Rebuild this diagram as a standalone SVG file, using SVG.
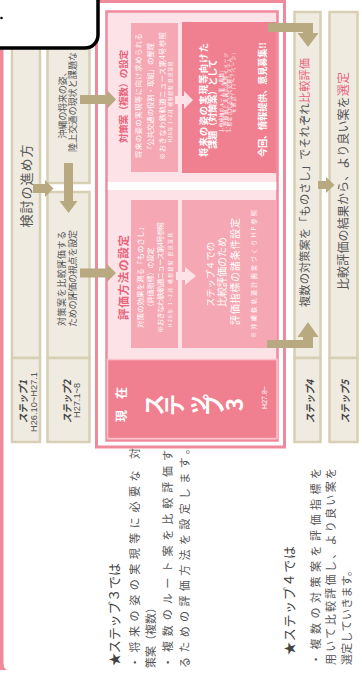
<svg xmlns="http://www.w3.org/2000/svg" width="362" height="676" viewBox="0 0 362 676">
<style>
text{font-family:"Noto Sans CJK JP","Noto Sans",sans-serif;}
.lat{font-family:"Liberation Sans","Noto Sans CJK JP",sans-serif;}
.col{fill:#efebe1;stroke:#d7cfb3;stroke-width:2.5;}
.arr{fill:#b8a981;}
.frame{fill:none;stroke:#f0899a;}
.mid{fill:#f5a7b3;}
.dark{fill:#f0808f;}
.lpa{fill:#fde3e8;}
.g{fill:#555;}
.w{fill:#fff;}
.pkt{fill:#e9637b;}
.b{font-weight:bold;}
</style>

<!-- left pink edge -->
<path d="M0,40 H3.5 V662 Q3.5,670 8,670 H0 Z" fill="#f0899a"/>

<!-- step columns -->
<g id="step1">
  <rect class="col" x="12" y="-5" width="28" height="363"/>
  <rect class="col" x="12" y="358" width="28" height="84"/>
  <text class="g" x="31.4" y="186" font-size="13" text-anchor="middle" textLength="83" lengthAdjust="spacing" transform="rotate(-90 31.4 186)">検討の進め方</text>
  <text class="b" fill="#444" x="26.8" y="401.5" font-size="10" font-style="italic" text-anchor="middle" textLength="43" lengthAdjust="spacingAndGlyphs" transform="rotate(-90 26.8 401.5)">ステップ1</text>
  <text class="lat" fill="#555" x="36.6" y="402" font-size="9" text-anchor="middle" textLength="60" lengthAdjust="spacingAndGlyphs" transform="rotate(-90 36.6 402)">H26.10~H27.1</text>
</g>

<g id="step2">
  <rect class="col" x="47.5" y="-5" width="42" height="188"/>
  <rect class="col" x="47.5" y="192" width="42" height="166"/>
  <rect class="col" x="47.5" y="358" width="42" height="84"/>
  <text class="g" x="65.9" y="138.5" font-size="9" textLength="71" lengthAdjust="spacing" transform="rotate(-90 65.9 138.5)">沖縄の将来の姿、</text>
  <text class="g" x="75.9" y="152" font-size="9" textLength="100" lengthAdjust="spacing" transform="rotate(-90 75.9 152)">陸上交通の現状と課題な</text>
  <text class="g" x="65.4" y="326" font-size="9" textLength="95" lengthAdjust="spacing" transform="rotate(-90 65.4 326)">対策案を比較評価する</text>
  <text class="g" x="76.4" y="327" font-size="9" textLength="97" lengthAdjust="spacing" transform="rotate(-90 76.4 327)">ための評価の視点を設定</text>
  <text class="b" fill="#444" x="70.8" y="401.5" font-size="10" font-style="italic" text-anchor="middle" textLength="43" lengthAdjust="spacingAndGlyphs" transform="rotate(-90 70.8 401.5)">ステップ2</text>
  <text class="lat" fill="#555" x="79.6" y="400.5" font-size="9" text-anchor="middle" textLength="35" lengthAdjust="spacingAndGlyphs" transform="rotate(-90 79.6 400.5)">H27.1~8</text>
</g>

<!-- step 3 frame -->
<g id="step3">
  <rect x="96.5" y="1.5" width="188" height="445.5" fill="#fff" class="frame" stroke-width="3"/>
  <rect x="106.5" y="11.5" width="171" height="429" class="lpa" stroke="#f0899a" stroke-width="2.5"/>
  <rect x="107.8" y="182" width="168.5" height="8" fill="#fff"/>

  <g id="taisaku">
    <text class="pkt b" x="126.8" y="96.5" font-size="9.6" text-anchor="middle" textLength="93" lengthAdjust="spacing" transform="rotate(-90 126.8 96.5)">対策案（複数）の設定</text>
    <rect class="mid" x="131" y="23" width="47" height="149"/>
    <text class="w" x="140.8" y="95.5" font-size="7.4" text-anchor="middle" textLength="125" lengthAdjust="spacing" transform="rotate(-90 140.8 95.5)">将来の姿の実現等に向け求められる</text>
    <text class="w" x="152.8" y="98" font-size="7.4" text-anchor="middle" textLength="110" lengthAdjust="spacing" transform="rotate(-90 152.8 98)">「公共交通の役割・取組」の整理</text>
    <text class="w" x="164.8" y="96" font-size="7.4" text-anchor="middle" textLength="128" lengthAdjust="spacing" transform="rotate(-90 164.8 96)">※おきなわ鉄軌道ニュース第4号参照</text>
    <text class="w" x="171.8" y="102" font-size="4.8" text-anchor="middle" textLength="81" lengthAdjust="spacing" transform="rotate(-90 171.8 102)">H28年 1~2月 構想段階 県民意見</text>
  </g>

  <g id="kadai">
    <rect class="dark" x="182" y="22" width="94.5" height="151"/>
    <text class="w b" x="207" y="100" font-size="9.3" text-anchor="middle" textLength="114" lengthAdjust="spacing" transform="rotate(-90 207 100)">将来の姿の実現等向けた</text>
    <text class="w b" x="216.3" y="104" font-size="9.3" text-anchor="middle" textLength="90" lengthAdjust="spacing" transform="rotate(-90 216.3 104)">課題（対策案）として</text>
    <text class="w" x="222.9" y="132" font-size="4.5" textLength="64" lengthAdjust="spacing" transform="rotate(-90 222.9 132)">1.骨格軸のルート案（複数）</text>
    <text class="w" x="226.9" y="132" font-size="4.5" textLength="79" lengthAdjust="spacing" transform="rotate(-90 226.9 132)">2.骨格軸と支線の連携イメージ</text>
    <text class="w" x="230.9" y="132" font-size="4.5" textLength="74" lengthAdjust="spacing" transform="rotate(-90 230.9 132)">3.想定される公共交通システム</text>
    <text class="w" x="234.9" y="113" font-size="4.5" textLength="63" lengthAdjust="spacing" transform="rotate(-90 234.9 113)">を検討!（2～7ページ）</text>
    <text class="w b" x="265.5" y="99.5" font-size="9.2" text-anchor="middle" textLength="115" lengthAdjust="spacing" transform="rotate(-90 265.5 99.5)">今回、情報提供、意見募集!!</text>
  </g>

  <g id="hyoka">
    <text class="pkt b" x="128.4" y="277.5" font-size="11.5" text-anchor="middle" textLength="85" lengthAdjust="spacing" transform="rotate(-90 128.4 277.5)">評価方法の設定</text>
    <rect class="mid" x="131" y="200" width="47" height="148"/>
    <text class="w" x="142.8" y="275.5" font-size="7.4" text-anchor="middle" textLength="105" lengthAdjust="spacing" transform="rotate(-90 142.8 275.5)">対策の効果を測る「ものさし」</text>
    <text class="w" x="153.3" y="279" font-size="7" text-anchor="middle" transform="rotate(-90 153.3 279)">（評価指標）の設定</text>
    <text class="w" x="162.8" y="277.5" font-size="7.4" text-anchor="middle" textLength="111" lengthAdjust="spacing" transform="rotate(-90 162.8 277.5)">※おきなわ鉄軌道ニュース第4号参照</text>
    <text class="w" x="171.8" y="280" font-size="4.8" text-anchor="middle" textLength="94" lengthAdjust="spacing" transform="rotate(-90 171.8 280)">H28年 1~2月 構想段階 県民意見</text>
  </g>

  <g id="shijoken">
    <rect class="mid" x="182" y="200" width="94.5" height="148"/>
    <text class="w" x="213.8" y="274.5" font-size="9.3" text-anchor="middle" textLength="65" lengthAdjust="spacing" transform="rotate(-90 213.8 274.5)">ステップ４での</text>
    <text class="w" x="225.8" y="272" font-size="10" text-anchor="middle" textLength="70" lengthAdjust="spacing" transform="rotate(-90 225.8 272)">比較評価のため</text>
    <text class="w" x="238.8" y="271.5" font-size="10" text-anchor="middle" textLength="107" lengthAdjust="spacing" transform="rotate(-90 238.8 271.5)">評価指標の諸条件設定</text>
    <text class="w" x="255.8" y="274" font-size="6" text-anchor="middle" textLength="128" lengthAdjust="spacing" transform="rotate(-90 255.8 274)">※沖縄鉄軌道計画案づくりHP参照</text>
  </g>

  <g id="step3-label">
    <rect class="dark" x="107.5" y="359.5" width="169.5" height="79" stroke="#f9c3cc" stroke-width="1.5"/>
    <text class="w b" x="126" y="404.5" font-size="12" text-anchor="middle" textLength="35" lengthAdjust="spacing" transform="rotate(-90 126 404.5)">現在</text>
    <text class="w b" font-size="22" x="162.4 182.4 204.4 222.4 242.9" y="416 416 416 416 411" rotate="-90">ステップ3</text>
    <text class="w lat" x="266.5" y="397.5" font-size="7" text-anchor="middle" transform="rotate(-90 266.5 397.5)">H27.8~</text>
  </g>
</g>

<g id="step4">
  <rect class="col" x="294.5" y="12" width="26" height="346"/>
  <rect class="col" x="294.5" y="358" width="26" height="84"/>
  <text class="g" x="309.4" y="182.5" font-size="11.2" text-anchor="middle" textLength="249" lengthAdjust="spacing" transform="rotate(-90 309.4 182.5)">複数の対策案を「ものさし」でそれぞれ<tspan class="pkt">比較評価</tspan></text>
  <text class="b" fill="#444" x="313.8" y="401.5" font-size="10" font-style="italic" text-anchor="middle" textLength="43" lengthAdjust="spacingAndGlyphs" transform="rotate(-90 313.8 401.5)">ステップ4</text>
</g>

<g id="step5">
  <rect class="col" x="329.5" y="12" width="28" height="346"/>
  <rect class="col" x="329.5" y="358" width="28" height="84"/>
  <text class="g" x="347.6" y="181" font-size="12" text-anchor="middle" textLength="218" lengthAdjust="spacing" transform="rotate(-90 347.6 181)">比較評価の結果から、より良い案を<tspan class="pkt">選定</tspan></text>
  <text class="b" fill="#444" x="348.8" y="401.5" font-size="10" font-style="italic" text-anchor="middle" textLength="43" lengthAdjust="spacingAndGlyphs" transform="rotate(-90 348.8 401.5)">ステップ5</text>
</g>

<!-- connectors -->
<g id="connectors">
  <path class="arr" d="M33,184 H45 V180 L53.5,188.5 L45,197 V193 H33 Z"/>
  <path class="arr" d="M64,163 H73 V201 H77.5 L68.5,213 L59.5,201 H64 Z"/>
  <path class="arr" d="M80,95 H107 V90 L116,99.5 L107,109 V104 H80 Z"/>
  <path class="arr" d="M80,268.5 H107 V264 L116,273 L107,282 V277.5 H80 Z"/>
  <path class="lpa" d="M175,96 H184 V91 L193,100 L184,109 V104 H175 Z"/>
  <path class="lpa" d="M176,272 H185 V267 L196,276 L185,285 V280 H176 Z"/>
  <path class="arr" d="M268,23 H313 V33 H318.5 L308,47 L297.5,33 H303 V32 H268 Z"/>
  <path class="arr" d="M267,348 H313 V337 H318.5 L308,322 L297.5,337 H303 V340 H267 Z"/>
  <path class="arr" d="M318,181 H326 V177 L334.5,185 L326,193 V189 H318 Z"/>
</g>

<!-- notes -->
<g id="notes">
  <text fill="#444" x="119" y="666" font-size="13" textLength="103" lengthAdjust="spacing" transform="rotate(-90 119 666)">★ステップ３では</text>
  <text class="g" x="139.2" y="668" font-size="11" textLength="220" lengthAdjust="spacing" transform="rotate(-90 139.2 668)">・将来の姿の実現等に必要な 対</text>
  <text class="g" x="154.7" y="668" font-size="11" transform="rotate(-90 154.7 668)">策案（複数）</text>
  <text class="g" x="172.2" y="668" font-size="11" textLength="218" lengthAdjust="spacing" transform="rotate(-90 172.2 668)">・複数のルート案を比較評価す</text>
  <text class="g" x="188.7" y="668" font-size="11" textLength="225" lengthAdjust="spacing" transform="rotate(-90 188.7 668)">るための評価方法を設定します。</text>
  <text fill="#444" x="294" y="655" font-size="13" textLength="109" lengthAdjust="spacing" transform="rotate(-90 294 655)">★ステップ４では</text>
  <text class="g" x="320.2" y="665" font-size="11" textLength="197" lengthAdjust="spacing" transform="rotate(-90 320.2 665)">・複数の対策案を評価指標を</text>
  <text class="g" x="335.2" y="665" font-size="11" textLength="197" lengthAdjust="spacing" transform="rotate(-90 335.2 665)">用いて比較評価し、より良い案を</text>
  <text class="g" x="350.7" y="665" font-size="11" textLength="100" lengthAdjust="spacing" transform="rotate(-90 350.7 665)">選定していきます。</text>
</g>

<!-- top-left callout box -->
<g id="callout">
  <path d="M-5,-5 H98 V35 A13 13 0 0 1 85 48 H-5 Z" fill="#fff" stroke="#000" stroke-width="3.5"/>
  <circle cx="1.5" cy="18" r="1.3" fill="#000"/>
</g>
</svg>
